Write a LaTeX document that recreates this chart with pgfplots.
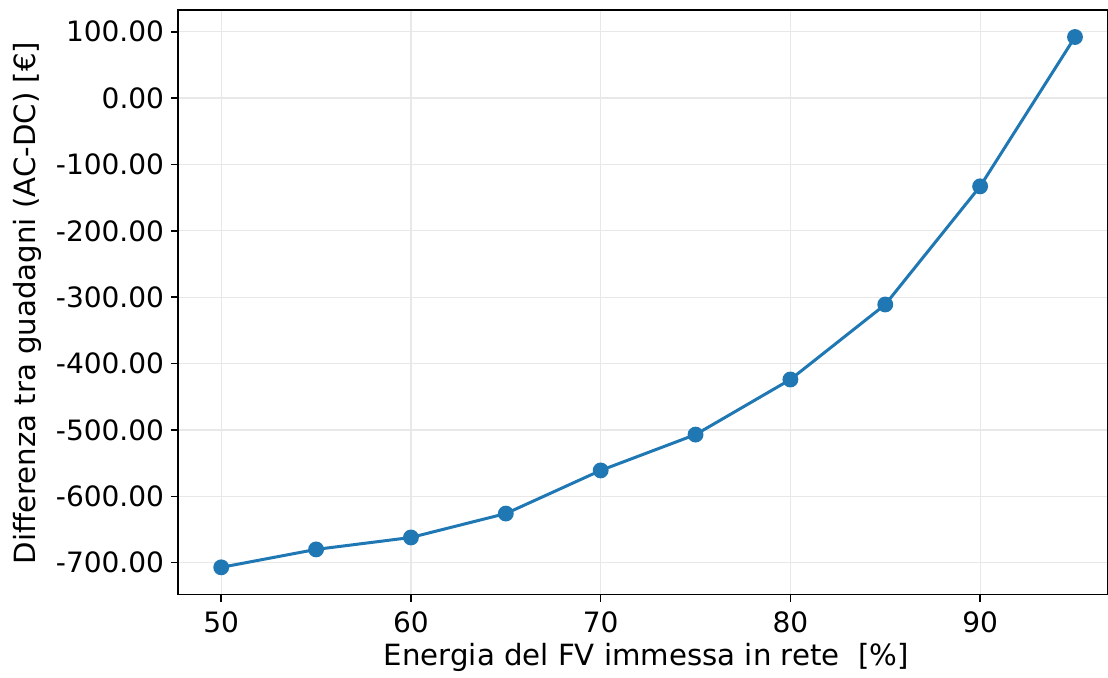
\documentclass[border=0pt]{standalone}
\usepackage{pgfplots}
\pgfplotsset{compat=1.18}
\usepackage{fontspec}
\setmainfont{DejaVu Sans}
\definecolor{mplblue}{HTML}{1F77B4}
\begin{document}
\begin{tikzpicture}
\begin{axis}[
  name=ax,
  scale only axis,
  width=464.5pt, height=292pt,
  xmin=47.73, xmax=96.74,
  ymin=-748, ymax=132.7,
  xtick={50,60,70,80,90},
  ytick={-700,-600,-500,-400,-300,-200,-100,0,100},
  font=\fontsize{14}{16}\selectfont,
  yticklabel={\pgfmathprintnumber[fixed,fixed zerofill,precision=2,assume math mode=true]{\tick}},
  xticklabel={\pgfmathprintnumber[assume math mode=true]{\tick}},
  xticklabel style={yshift=-1.5pt},
  tick align=outside,
  major tick length=3.5pt,
  tick style={black, line width=0.8pt},
  xtick pos=bottom, ytick pos=left,
  grid=major,
  grid style={gray!18, line width=0.6pt},
  axis line style={line width=0.8pt},
  xlabel={Energia del FV immessa in rete\ \ [\%]},
  ylabel={Differenza tra guadagni (AC-DC) [€]},
  xlabel style={at={(axis description cs:0.5035,-0.1216)}, anchor=base, font=\fontsize{14.6}{16}\selectfont},
  ylabel style={at={(axis description cs:-0.1539,0.4985)}, anchor=base, font=\fontsize{14.6}{16}\selectfont},
]
\addplot[mplblue, line width=1.5pt, mark=*, mark size=3.2pt, mark options={fill=mplblue, draw=mplblue}]
coordinates {
(50,-707) (55,-680) (60,-662) (65,-626) (70,-561) (75,-507) (80,-424) (85,-311) (90,-133) (95,92)
};
\end{axis}
\path (ax.north east) ++(0,5pt) coordinate (tr);
\path (ax.south west) ++(-89pt,-41.5pt) coordinate (bl);
\pgfresetboundingbox
\path[use as bounding box] (bl) rectangle (tr);
\end{tikzpicture}
\end{document}
